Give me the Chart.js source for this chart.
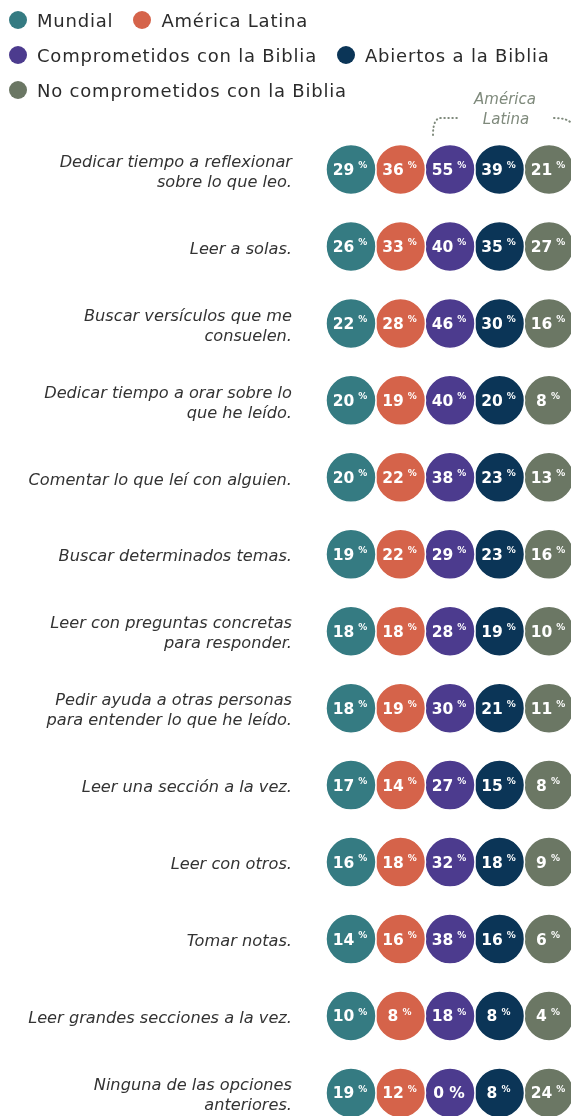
<!DOCTYPE html>
<html lang="es">
<head>
<meta charset="utf-8">
<script src="https://cdn.jsdelivr.net/npm/chart.js@4.4.1/dist/chart.umd.min.js"></script>
<style>
    body { margin: 0; background: #fff; }
    #wrap { position: relative; width: 571px; height: 1116px; }
    #legend {
        position: absolute; left: 9px; top: 8px; width: 562px;
        font-family: "DejaVu Sans", sans-serif; font-size: 18px; color: #2b2b2b;
        letter-spacing: 0.8px;
    }
    .row { display: flex; height: 35px; align-items: flex-start; }
    .item { display: flex; align-items: center; height: 24px; margin-right: 20px; }
    .dot { width: 18px; height: 18px; border-radius: 50%; margin-right: 10px; }
    canvas { position: absolute; left: 0; top: 0; }
</style>
</head>
<body>
<div id="wrap">
    <canvas id="chart" width="571" height="1116"></canvas>
    <div id="legend"></div>
</div>
<script>
// Datos
const labels = [
    ['Dedicar tiempo a reflexionar', 'sobre lo que leo.'],
    'Leer a solas.',
    ['Buscar versículos que me', 'consuelen.'],
    ['Dedicar tiempo a orar sobre lo', 'que he leído.'],
    'Comentar lo que leí con alguien.',
    'Buscar determinados temas.',
    ['Leer con preguntas concretas', 'para responder.'],
    ['Pedir ayuda a otras personas', 'para entender lo que he leído.'],
    'Leer una sección a la vez.',
    'Leer con otros.',
    'Tomar notas.',
    'Leer grandes secciones a la vez.',
    ['Ninguna de las opciones', 'anteriores.']
];

const seriesNames = ['Mundial', 'América Latina', 'Comprometidos con la Biblia', 'Abiertos a la Biblia', 'No comprometidos con la Biblia'];
const seriesColors = ['#357b82', '#d5634a', '#4c3b8e', '#0b3557', '#6b7764'];

const mundial        = [29, 26, 22, 20, 20, 19, 18, 18, 17, 16, 14, 10, 19];
const americaLatina  = [36, 33, 28, 19, 22, 22, 18, 19, 14, 18, 16, 8, 12];
const comprometidos  = [55, 40, 46, 40, 38, 29, 28, 30, 27, 32, 38, 18, 0];
const abiertos       = [39, 35, 30, 20, 23, 23, 19, 21, 15, 18, 16, 8, 8];
const noComprometidos = [21, 27, 16, 8, 13, 16, 10, 11, 8, 9, 6, 4, 24];

const seriesValues = [mundial, americaLatina, comprometidos, abiertos, noComprometidos];

// Leyenda (tres filas como en el original)
const legendRows = [[0, 1], [2, 3], [4]];
const legend = document.getElementById('legend');
legendRows.forEach(idxs => {
    const row = document.createElement('div');
    row.className = 'row';
    idxs.forEach(i => {
        const item = document.createElement('div');
        item.className = 'item';
        item.innerHTML = `<span class="dot" style="background:${seriesColors[i]}"></span>${seriesNames[i]}`;
        row.appendChild(item);
    });
    legend.appendChild(row);
});

// Texto dentro de los círculos
const valueLabels = {
    id: 'valueLabels',
    afterDatasetsDraw(chart) {
        const ctx = chart.ctx;
        ctx.save();
        ctx.fillStyle = '#fff';
        ctx.textBaseline = 'alphabetic';
        ctx.textAlign = 'left';
        const big = 'bold 15.5px "DejaVu Sans"';
        chart.data.datasets.forEach((ds, di) => {
            chart.getDatasetMeta(di).data.forEach((pt, i) => {
                const v = seriesValues[di][i];
                const num = String(v);
                const small = v !== 0;
                const pctFont = small ? 'bold 9px "DejaVu Sans"' : big;
                ctx.font = big;
                const w1 = ctx.measureText(num).width;
                ctx.font = pctFont;
                const w2 = ctx.measureText('%').width;
                const gap = small ? 4 : 5;
                const x0 = pt.x - (w1 + gap + w2) / 2 - 1;
                ctx.font = big;
                ctx.fillText(num, x0, pt.y + 5.5);
                ctx.font = pctFont;
                ctx.fillText('%', x0 + w1 + gap, small ? pt.y - 1 : pt.y + 5.5);
            });
        });
        ctx.restore();
    }
};

// Anotación "América Latina"
const regionNote = {
    id: 'regionNote',
    afterDraw(chart) {
        const ctx = chart.ctx;
        const left = chart.scales.x.getPixelForValue(2) - 17;
        ctx.save();
        ctx.fillStyle = '#7f8a7c';
        ctx.font = 'italic 15px "DejaVu Sans"';
        ctx.textAlign = 'center';
        ctx.fillText('América', 505, 104);
        ctx.fillText('Latina', 506, 124);
        ctx.strokeStyle = '#7f8a7c';
        ctx.lineWidth = 2;
        ctx.lineCap = 'round';
        ctx.setLineDash([0.5, 3.5]);
        ctx.beginPath();
        ctx.moveTo(left, 135);
        ctx.quadraticCurveTo(left, 118, left + 8, 118);
        ctx.lineTo(left + 25, 118);
        ctx.stroke();
        ctx.beginPath();
        ctx.moveTo(554, 118);
        ctx.quadraticCurveTo(568, 118, 572, 124);
        ctx.stroke();
        ctx.restore();
    }
};

const datasets = seriesNames.map((name, di) => ({
    label: name,
    data: seriesValues[di].map((v, i) => ({ x: di, y: i })),
    backgroundColor: seriesColors[di],
    borderColor: '#ffffff',
    borderWidth: 1.5,
    pointRadius: 25,
    pointHoverRadius: 25,
    clip: false
}));

new Chart(document.getElementById('chart'), {
    type: 'scatter',
    data: { datasets },
    options: {
        responsive: false,
        devicePixelRatio: 1,
        animation: false,
        layout: { autoPadding: false, padding: { top: 131, bottom: 0, left: 0, right: 0 } },
        plugins: {
            legend: { display: false },
            tooltip: { enabled: false }
        },
        scales: {
            x: {
                type: 'linear',
                display: false,
                min: -1.03,
                max: 4.444
            },
            y: {
                type: 'linear',
                reverse: true,
                min: -0.5,
                max: 12.3,
                grid: { display: false, drawTicks: false },
                border: { display: false },
                afterBuildTicks: axis => { axis.ticks = labels.map((_, i) => ({ value: i })); },
                afterFit: axis => { axis.width = 300; axis.paddingTop = 0; axis.paddingBottom = 0; },
                ticks: {
                    padding: 8,
                    labelOffset: 3,
                    color: '#333',
                    font: { family: '"DejaVu Sans"', size: 16.2, style: 'italic', lineHeight: 1.24 },
                    callback: v => labels[v]
                }
            }
        }
    },
    plugins: [valueLabels, regionNote]
});
</script>
</body>
</html>
